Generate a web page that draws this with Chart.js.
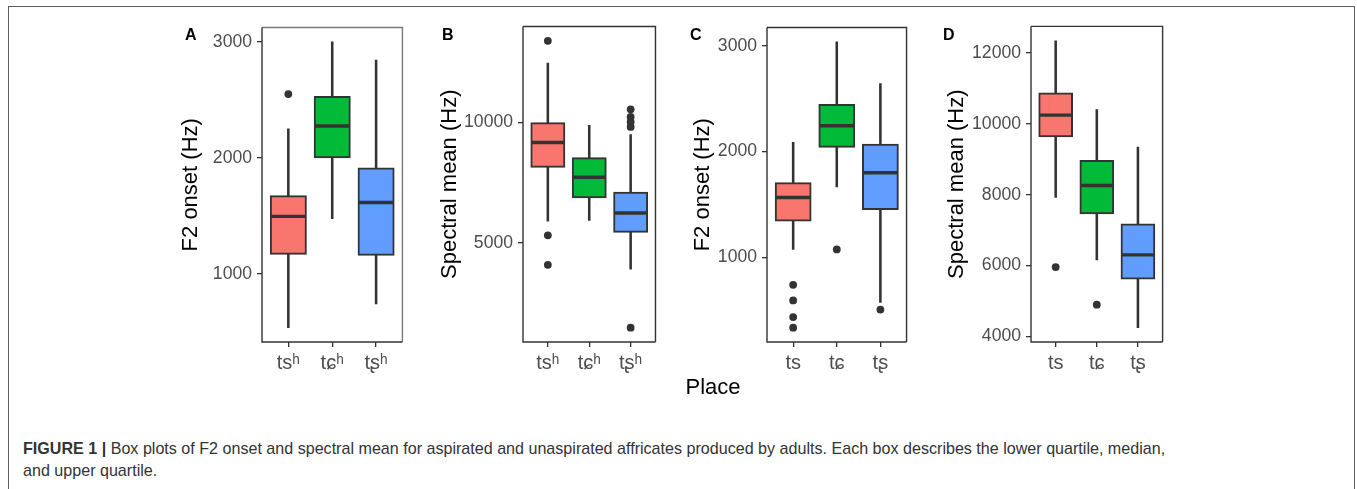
<!DOCTYPE html>
<html lang="en">
<head>
<meta charset="UTF-8">
<title>Figure 1 - F2 onset and spectral mean box plots</title>
<style>
    body {
        margin: 0;
        width: 1357px;
        height: 489px;
        overflow: hidden;
        position: relative;
        background: #fff;
        font-family: "Liberation Sans", Arial, sans-serif;
    }
    #frame {
        position: absolute;
        left: 8px;
        top: 6px;
        width: 1347px;
        height: 520px;
        border: 1.5px solid #5f5f5f;
        box-sizing: border-box;
    }
    canvas { position: absolute; }
    .tag {
        position: absolute;
        font-weight: bold;
        font-size: 16px;
        line-height: 16px;
        color: #000;
    }
    #place {
        position: absolute;
        left: 613px;
        width: 200px;
        top: 376px;
        text-align: center;
        font-size: 22px;
        line-height: 22px;
        color: #000;
    }
    .cap {
        position: absolute;
        left: 23px;
        font-size: 16.1px;
        line-height: 21px;
        color: #333;
        white-space: nowrap;
    }
</style>
</head>
<body>
<div id="frame"></div>
<canvas id="panelA"></canvas>
<canvas id="panelB"></canvas>
<canvas id="panelC"></canvas>
<canvas id="panelD"></canvas>
<div class="tag" style="left:185px; top:27px;">A</div>
<div class="tag" style="left:442px; top:27px;">B</div>
<div class="tag" style="left:690px; top:27px;">C</div>
<div class="tag" style="left:943px; top:27px;">D</div>
<div id="place">Place</div>
<div class="cap" style="top:438px;"><b>FIGURE 1 |</b> Box plots of F2 onset and spectral mean for aspirated and unaspirated affricates produced by adults. Each box describes the lower quartile, median,</div>
<div class="cap" style="top:460px;">and upper quartile.</div>

<script src="https://cdn.jsdelivr.net/npm/chart.js"></script>
<script>
    // categories
    const placesAsp = ['tsʰ', 'tɕʰ', 'tʂʰ'];
    const placesUnasp = ['ts', 'tɕ', 'tʂ'];

    // A: F2 onset, aspirated
    const aLow = [536, 1476, 741];
    const aQ1 = [1168, 2000, 1160];
    const aMed = [1496, 2274, 1615];
    const aQ3 = [1675, 2530, 1915];
    const aHigh = [2250, 3000, 2843];
    const aOutX = [1];
    const aOutY = [2550];
    const aTicks = [1000, 2000, 3000];

    // B: spectral mean, aspirated
    const bLow = [5897, 5926, 3900];
    const bQ1 = [8140, 6860, 5430];
    const bMed = [9174, 7727, 6240];
    const bQ3 = [10000, 8541, 7107];
    const bHigh = [12480, 9890, 9504];
    const bOutX = [1, 1, 1, 3, 3, 3, 3, 3];
    const bOutY = [13405, 5306, 4078, 10554, 10235, 10030, 9822, 1463];
    const bTicks = [5000, 10000];

    // C: F2 onset, unaspirated
    const cLow = [1075, 1666, 576];
    const cQ1 = [1342, 2040, 1451];
    const cMed = [1566, 2243, 1800];
    const cQ3 = [1707, 2445, 2071];
    const cHigh = [2087, 3037, 2641];
    const cOutX = [1, 1, 1, 1, 2, 3];
    const cOutY = [741, 594, 436, 336, 1075, 507];
    const cTicks = [1000, 2000, 3000];

    // D: spectral mean, unaspirated
    const dLow = [7924, 6160, 4245];
    const dQ1 = [9629, 7457, 5617];
    const dMed = [10247, 8262, 6301];
    const dQ3 = [10875, 8970, 7176];
    const dHigh = [12349, 10405, 9345];
    const dOutX = [1, 2];
    const dOutY = [5955, 4894];
    const dTicks = [4000, 6000, 8000, 10000, 12000];

    const boxColors = ['#F8766D', '#00BA38', '#619CFF'];
    const ink = '#333333';
    const tickGrey = '#4D4D4D';

    // plot area is the same height for every panel
    const canvasTop = 7, padTop = 18, plotHeight = 317, xAxisHeight = 45;

    const framePlugin = {
        id: 'frame',
        afterDatasetsDraw(chart, args, opts) {
            const a = chart.chartArea;
            const c = chart.ctx;
            c.save();
            c.lineWidth = 1.4;
            c.strokeStyle = opts.side || ink;
            c.beginPath();
            c.moveTo(a.left, a.top);
            c.lineTo(a.right, a.top);
            c.lineTo(a.right, a.bottom);
            c.stroke();
            c.strokeStyle = ink;
            c.beginPath();
            c.moveTo(a.left, a.top);
            c.lineTo(a.left, a.bottom);
            c.lineTo(a.right, a.bottom);
            c.stroke();
            c.restore();
        }
    };

    function makePanel(id, pos, cats, low, q1, med, q3, high, outX, outY, ticks, yMin, yMax, title, side) {
        const xs = cats.map((_, i) => i + 1);
        const boxPx = (pos.right - pos.left) / 3.2 * 0.75;
        const canvas = document.getElementById(id);
        canvas.width = pos.right - pos.canvasLeft + 6;
        canvas.height = padTop + plotHeight + xAxisHeight;
        canvas.style.left = pos.canvasLeft + 'px';
        canvas.style.top = canvasTop + 'px';

        new Chart(canvas, {
            type: 'bar',
            data: {
                datasets: [
                    {
                        // whiskers
                        type: 'bar',
                        data: xs.map((x, i) => ({ x: x, y: [low[i], high[i]] })),
                        backgroundColor: ink,
                        borderWidth: 0,
                        barThickness: 1.9,
                        grouped: false,
                        order: 4
                    },
                    {
                        // boxes
                        type: 'bar',
                        data: xs.map((x, i) => ({ x: x, y: [q1[i], q3[i]] })),
                        backgroundColor: boxColors,
                        borderColor: ink,
                        borderWidth: 2,
                        borderSkipped: false,
                        barThickness: boxPx,
                        grouped: false,
                        order: 3
                    },
                    {
                        // medians
                        type: 'scatter',
                        data: xs.map((x, i) => ({ x: x, y: med[i] })),
                        pointStyle: 'line',
                        pointRadius: boxPx / 2 - 1,
                        pointBorderWidth: 3.4,
                        pointBorderColor: ink,
                        order: 2
                    },
                    {
                        // outliers
                        type: 'scatter',
                        data: outX.map((x, i) => ({ x: x, y: outY[i] })),
                        pointRadius: 3.9,
                        pointBackgroundColor: ink,
                        pointBorderWidth: 0,
                        order: 1
                    }
                ]
            },
            options: {
                responsive: false,
                animation: false,
                layout: { padding: { top: padTop, right: 6, left: 0, bottom: 0 } },
                plugins: {
                    legend: { display: false },
                    tooltip: { enabled: false },
                    frame: { side: side }
                },
                scales: {
                    x: {
                        type: 'linear',
                        min: 0.4,
                        max: 3.6,
                        offset: false,
                        afterBuildTicks: (s) => { s.ticks = xs.map(v => ({ value: v })); },
                        afterFit: (s) => { s.height = xAxisHeight; },
                        ticks: {
                            callback: (v) => cats[v - 1],
                            color: tickGrey,
                            font: { size: 20 },
                            padding: 4,
                            maxRotation: 0,
                            autoSkip: false
                        },
                        grid: { drawOnChartArea: false, tickLength: 5, color: ink, lineWidth: 1.3, offset: false },
                        border: { display: false }
                    },
                    y: {
                        min: yMin,
                        max: yMax,
                        afterBuildTicks: (s) => { s.ticks = ticks.map(v => ({ value: v })); },
                        afterFit: (s) => { s.width = pos.left - pos.canvasLeft; },
                        ticks: {
                            callback: (v) => String(v),
                            color: tickGrey,
                            font: { size: 17.6 },
                            padding: 5
                        },
                        grid: { drawOnChartArea: false, tickLength: 5, color: ink, lineWidth: 1.3 },
                        border: { display: false },
                        title: { display: true, text: title, color: '#000', font: { size: 22 } }
                    }
                }
            },
            plugins: [framePlugin]
        });
    }

    Chart.defaults.font.family = '"Liberation Sans", Arial, sans-serif';

    makePanel('panelA', { canvasLeft: 174, left: 262, right: 417 }, placesAsp,
        aLow, aQ1, aMed, aQ3, aHigh, aOutX, aOutY, aTicks, 413, 3123, 'F2 onset (Hz)', '#7a7a7a');
    makePanel('panelB', { canvasLeft: 433, left: 523, right: 669 }, placesAsp,
        bLow, bQ1, bMed, bQ3, bHigh, bOutX, bOutY, bTicks, 866, 14002, 'Spectral mean (Hz)', ink);
    makePanel('panelC', { canvasLeft: 686, left: 767, right: 921 }, placesUnasp,
        cLow, cQ1, cMed, cQ3, cHigh, cOutX, cOutY, cTicks, 201, 3172, 'F2 onset (Hz)', ink);
    makePanel('panelD', { canvasLeft: 940, left: 1031, right: 1176 }, placesUnasp,
        dLow, dQ1, dMed, dQ3, dHigh, dOutX, dOutY, dTicks, 3840, 12754, 'Spectral mean (Hz)', ink);
</script>
</body>
</html>
